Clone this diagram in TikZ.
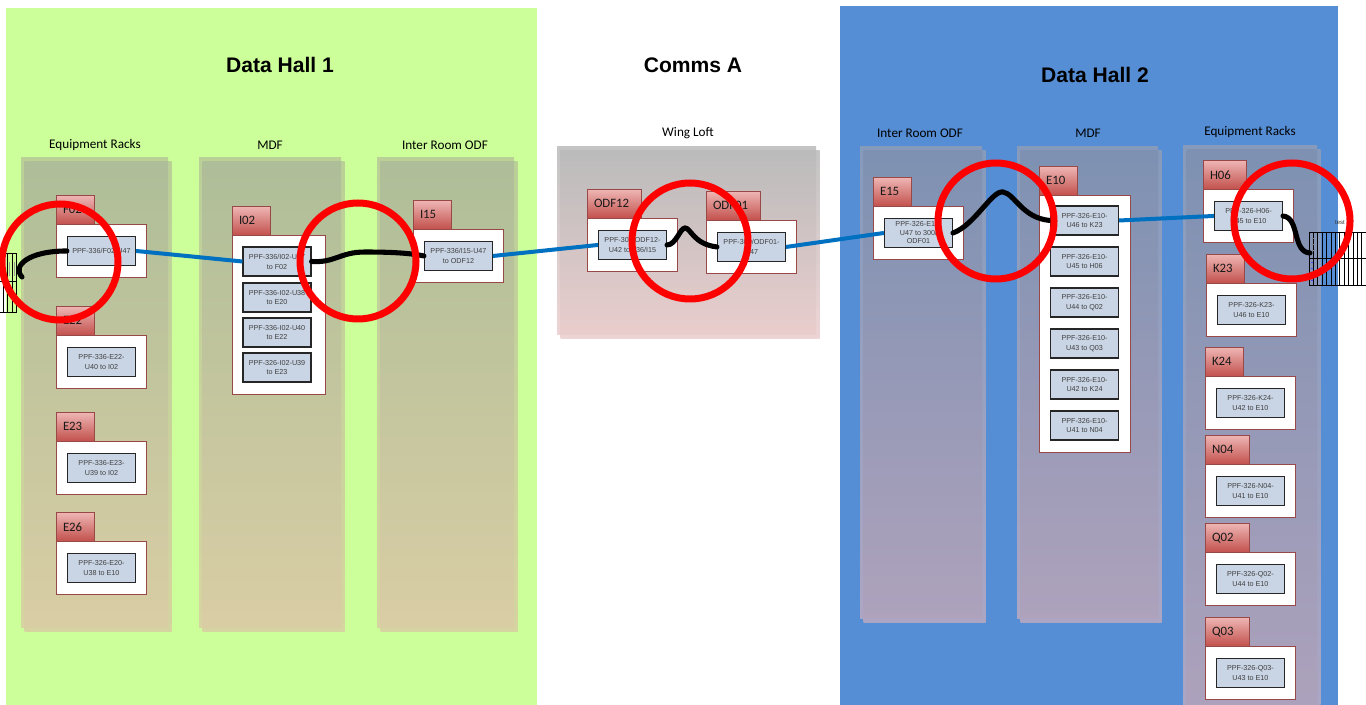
\documentclass[tikz,border=0pt]{standalone}
\usepackage{fontspec}
\setmainfont{Liberation Sans}
\newfontfamily\calfont{Carlito}
\newfontfamily\arialfont{Liberation Sans}
\usetikzlibrary{shadows}

\definecolor{hallgreen}{RGB}{204,255,153}
\definecolor{hallblue}{RGB}{85,142,213}
\definecolor{cableblue}{RGB}{0,112,192}
\definecolor{ppffill}{RGB}{201,213,229}
\definecolor{tabtop}{RGB}{238,182,180}
\definecolor{tabbot}{RGB}{194,80,76}
\definecolor{boxline}{RGB}{152,72,70}
% column palettes: lt/lb = single layer, dt/db = overlapping layers
\definecolor{glt}{RGB}{186,208,151}
\definecolor{glb}{RGB}{214,212,160}
\definecolor{gdt}{RGB}{174,190,152}
\definecolor{gdb}{RGB}{217,205,164}
\definecolor{wlt}{RGB}{196,196,196}
\definecolor{wlb}{RGB}{238,212,212}
\definecolor{wdt}{RGB}{187,187,187}
\definecolor{wdb}{RGB}{234,205,205}
\definecolor{blt}{RGB}{134,155,188}
\definecolor{blb}{RGB}{172,166,196}
\definecolor{bdt}{RGB}{126,145,178}
\definecolor{bdb}{RGB}{174,162,188}

% a room column: two slightly offset translucent panels
\newcommand\roomcol[5]{%
  \shade[top color=#5lt, bottom color=#5lb] (#1,#2) rectangle (#3,#4);
  \shade[top color=#5lt, bottom color=#5lb] ({#1+3.5},{#2+4}) rectangle ({#3+3.5},{#4+4});
  \shade[top color=#5dt, bottom color=#5db] ({#1+3.5},{#2+4}) rectangle (#3,#4);
}

\begin{document}
\begin{tikzpicture}[x=0.75pt,y=-0.75pt,
  halltitle/.style={font=\arialfont\bfseries\fontsize{15.8}{18}\selectfont},
  collabel/.style={font=\calfont\fontsize{9.9}{12}\selectfont},
  racktab/.style={draw=boxline, line width=0.5pt, top color=tabtop, bottom color=tabbot,
    anchor=north west, minimum height=21.75pt, inner xsep=5pt, inner ysep=0pt,
    text width=#1, align=left, font=\calfont\fontsize{9.6}{11}\selectfont, text=black!90},
  rackbox/.style={draw=boxline, line width=0.7pt, fill=white, anchor=north west,
    minimum width=67.5pt, minimum height=39.75pt, inner sep=0pt},
  ppf/.style={draw=black!85, line width=0.8pt, fill=ppffill, minimum width=51pt,
    minimum height=21.75pt, inner sep=0pt, align=center, text=black!75,
    font=\arialfont\fontsize{5.4}{7.4}\selectfont,
    drop shadow={shadow xshift=0.5pt, shadow yshift=-0.5pt, opacity=0.3}},
  bluecable/.style={draw=cableblue, line width=3pt},
  blackcable/.style={draw=black, line width=3.8pt, line cap=round},
  ring/.style={draw=red, line width=5.25pt}]

\useasboundingbox (0,0) rectangle (1366,705);
\fill[white] (0,0) rectangle (1366,705);

% halls
\fill[hallgreen] (6,8) rectangle (537,705);
\fill[hallblue] (840,6) rectangle (1338,705);

% hall titles
\node[halltitle] (t1) at (280,65) {Data Hall 1};
\node[halltitle] (t2) at (693,65) {Comms A};
\node[halltitle] (t3) at (1095,75) {Data Hall 2};

% columns
\roomcol{21}{158}{168}{627}{g}
\roomcol{199}{158}{341}{627}{g}
\roomcol{377}{158}{514}{627}{g}
\roomcol{557}{147}{816}{335}{w}
\roomcol{860}{147}{982}{618}{b}
\roomcol{1017}{147}{1158}{618}{b}
\roomcol{1183}{146}{1317}{720}{b}

% column labels
\node[collabel] (c1) at (95,145) {Equipment Racks};
\node[collabel] (c2) at (270,145) {MDF};
\node[collabel] (c3) at (445,145) {Inter Room ODF};
\node[collabel] (c4) at (688,133) {Wing Loft};
\node[collabel] (c5) at (920,133) {Inter Room ODF};
\node[collabel] (c6) at (1088,133) {MDF};
\node[collabel] (c7) at (1250,132) {Equipment Racks};

% ---- Data Hall 1: equipment racks
\node[racktab=18.5pt] (tabF02) at (56,195) {F02};
\node[rackbox] (boxF02) at (56,224) {};
\node[ppf] (ppfF02) at (boxF02.center) {PPF-336/F02-U47};

\node[racktab=18.5pt] (tabE22) at (56,306) {E22};
\node[rackbox] (boxE22) at (56,335) {};
\node[ppf] (ppfE22) at (boxE22.center) {PPF-336-E22-\\U40 to I02};

\node[racktab=18.5pt] (tabE23) at (56,412) {E23};
\node[rackbox] (boxE23) at (56,441) {};
\node[ppf] (ppfE23) at (boxE23.center) {PPF-336-E23-\\U39 to I02};

\node[racktab=18.5pt] (tabE26) at (56,512) {E26};
\node[rackbox] (boxE26) at (56,541) {};
\node[ppf] (ppfE26) at (boxE26.center) {PPF-326-E20-\\U38 to E10};

% ---- Data Hall 1: MDF
\node[racktab=18.5pt] (tabI02) at (232,206) {I02};
\node[rackbox, minimum width=69.75pt, minimum height=119.25pt] (boxI02) at (232,235) {};
\node[ppf] (ppfI02a) at (277,261.5) {PPF-336/I02-U47\\to F02};
\node[ppf] (ppfI02b) at (277,297.5) {PPF-336-I02-U38\\to E20};
\node[ppf] (ppfI02c) at (277,332.5) {PPF-336-I02-U40\\to E22};
\node[ppf] (ppfI02d) at (277,367.5) {PPF-326-I02-U39\\to E23};

% ---- Data Hall 1: inter room ODF
\node[racktab=18.5pt] (tabI15) at (413,200) {I15};
\node[rackbox] (boxI15) at (413,229) {};
\node[ppf] (ppfI15) at (boxI15.center) {PPF-336/I15-U47\\to ODF12};

% ---- Comms A: wing loft
\node[racktab=30.5pt] (tabODF12) at (587,189) {ODF12};
\node[rackbox] (boxODF12) at (587,218) {};
\node[ppf] (ppfODF12) at (boxODF12.center) {PPF-300/ODF12-\\U42 to 336/I15};

\node[racktab=30.5pt] (tabODF01) at (706,191) {ODF01};
\node[rackbox] (boxODF01) at (706,220) {};
\node[ppf] (ppfODF01) at (boxODF01.center) {PPF-300/ODF01-\\U47};

% ---- Data Hall 2: inter room ODF
\node[racktab=18.5pt] (tabE15) at (873,177) {E15};
\node[rackbox] (boxE15) at (873,206) {};
\node[ppf, font=\arialfont\fontsize{5.4}{6.4}\selectfont] (ppfE15) at (boxE15.center) {PPF-326-E15-\\U47 to 300/\\ODF01};

% ---- Data Hall 2: MDF
\node[racktab=18.5pt] (tabE10) at (1039,166) {E10};
\node[rackbox, minimum width=68.25pt, minimum height=192.75pt] (boxE10) at (1039,195) {};
\node[ppf] (ppfE10a) at (1084.5,220.5) {PPF-326-E10-\\U46 to K23};
\node[ppf] (ppfE10b) at (1084.5,261.5) {PPF-326-E10-\\U45 to H06};
\node[ppf] (ppfE10c) at (1084.5,302.5) {PPF-326-E10-\\U44 to Q02};
\node[ppf] (ppfE10d) at (1084.5,343.5) {PPF-326-E10-\\U43 to Q03};
\node[ppf] (ppfE10e) at (1084.5,384.5) {PPF-326-E10-\\U42 to K24};
\node[ppf] (ppfE10f) at (1084.5,425.5) {PPF-326-E10-\\U41 to N04};

% ---- Data Hall 2: equipment racks
\node[racktab=22.25pt] (tabH06) at (1203,160) {H06};
\node[rackbox] (boxH06) at (1203,189) {};
\node[ppf] (ppfH06) at (boxH06.center) {PPF-326-H06-\\U45 to E10};

\node[racktab=18.5pt] (tabK23) at (1206,254) {K23};
\node[rackbox] (boxK23) at (1206,283) {};
\node[ppf] (ppfK23) at (boxK23.center) {PPF-326-K23-\\U46 to E10};

\node[racktab=18.5pt] (tabK24) at (1205,347) {K24};
\node[rackbox] (boxK24) at (1205,376) {};
\node[ppf] (ppfK24) at (boxK24.center) {PPF-326-K24-\\U42 to E10};

\node[racktab=23pt] (tabN04) at (1205,435) {N04};
\node[rackbox] (boxN04) at (1205,464) {};
\node[ppf] (ppfN04) at (boxN04.center) {PPF-326-N04-\\U41 to E10};

\node[racktab=23pt] (tabQ02) at (1205,523) {Q02};
\node[rackbox] (boxQ02) at (1205,552) {};
\node[ppf] (ppfQ02) at (boxQ02.center) {PPF-326-Q02-\\U44 to E10};

\node[racktab=23pt] (tabQ03) at (1205,617) {Q03};
\node[rackbox] (boxQ03) at (1205,646) {};
\node[ppf] (ppfQ03) at (boxQ03.center) {PPF-326-Q03-\\U43 to E10};

% ---- patch panels at both ends
\begin{scope}[line width=0.5pt]
  \draw (-4,253) rectangle (16,312);
  \foreach \x in {3,7,12} \draw (\x,253) -- (\x,312);
  \draw (-4,281) -- (16,281);
  \foreach \x in {9,14} \draw[black!40, line width=0.3pt] (\x,262) -- (\x,276);
\end{scope}
\coordinate (plL) at (22,277);

\begin{scope}[line width=0.5pt]
  \draw (1309,232) rectangle (1372,285);
  \foreach \i in {1,...,13} \draw (1309+\i*4.4,232) -- (1309+\i*4.4,285);
  \draw (1309,258) -- (1372,258);
  \foreach \y in {238,244,250} \draw[black!50, line width=0.3pt] (1312,\y) -- (1314,\y);
  \foreach \y in {262,268,274,280} \draw[blue!70, line width=0.6pt] (1311,\y) -- (1313,\y);
\end{scope}
\node[font=\arialfont\fontsize{4.5}{5}\selectfont, text=black!80] (testlbl) at (1340,223) {test};
\coordinate (plR) at (1310,253);

% ---- fibre runs between halls
\draw[bluecable] (ppfF02.east) -- (ppfI02a.west);
\draw[bluecable] (ppfI15.east) -- (ppfODF12.west);
\draw[bluecable] (ppfODF01.east) -- (ppfE15.west);
\draw[bluecable] (ppfE10a.east) -- (ppfH06.west);

% ---- patch leads
\draw[blackcable] (plL) .. controls (12,266) and (28,251) .. (ppfF02.west);
\draw[blackcable] (ppfI02a.east) .. controls (335,263) and (340,252) .. (365,252)
  .. controls (390,252) and (410,253) .. (ppfI15.west);
\draw[blackcable] (ppfODF12.east) .. controls (676,245) and (680,228) .. (685,228)
  .. controls (691,228) and (693,244) .. (ppfODF01.west);
\draw[blackcable] (ppfE15.east) .. controls (975,225) and (992,190) .. (1003,192)
  .. controls (1015,194) and (1022,218) .. (ppfE10a.west);
\draw[blackcable] (ppfH06.east) .. controls (1300,218) and (1292,252) .. (plR);

% ---- highlighted joints
\coordinate (r1) at (60,262);
\coordinate (r2) at (358,261);
\coordinate (r3) at (690,241);
\coordinate (r4) at (996,221);
\coordinate (r5) at (1292,221);
\foreach \r in {r1,r2,r3,r4,r5} \draw[ring] (\r) circle[radius=43.5pt];

\end{tikzpicture}
\end{document}
